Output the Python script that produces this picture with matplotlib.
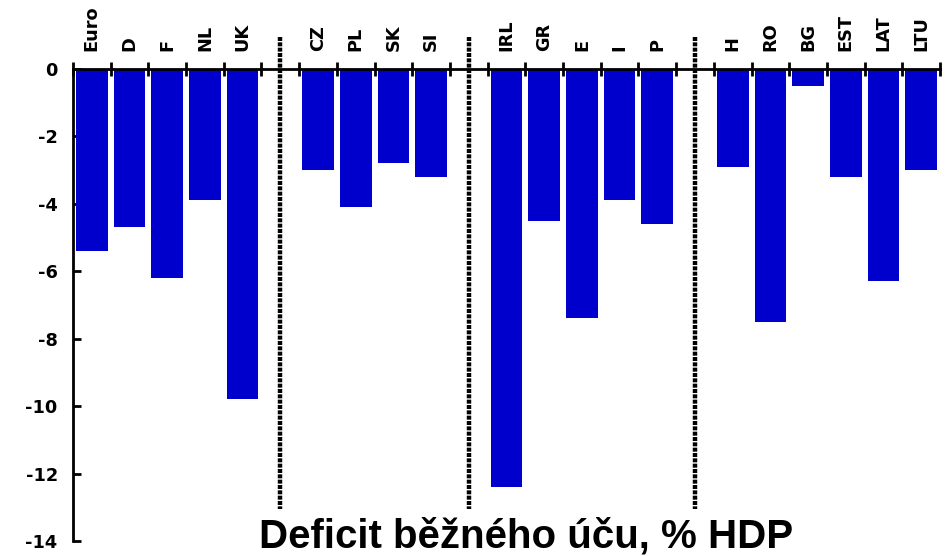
import matplotlib
matplotlib.use("Agg")
import matplotlib.pyplot as plt
import numpy as np

# Data (current account deficit, % of GDP)
groups = [
    ["Euro", "D", "F", "NL", "UK"],
    ["CZ", "PL", "SK", "SI"],
    ["IRL", "GR", "E", "I", "P"],
    ["H", "RO", "BG", "EST", "LAT", "LTU"],
]
values = [
    [-5.4, -4.7, -6.2, -3.9, -9.8],
    [-3.0, -4.1, -2.8, -3.2],
    [-12.4, -4.5, -7.4, -3.9, -4.6],
    [-2.9, -7.5, -0.5, -3.2, -6.3, -3.0],
]
y_ticks = [0, -2, -4, -6, -8, -10, -12, -14]
title = "Deficit b\u011b\u017en\u00e9ho \u00fa\u010du, % HDP"

bar_color = "#0000CC"

fig = plt.figure(figsize=(9.5, 5.56), dpi=100)
ax = fig.add_axes([73 / 950, 1 - 541 / 556, (940 - 73) / 950, (541 - 69) / 556])

# Build slot positions with one empty slot between groups
positions, labels, vals, separators = [], [], [], []
slot = 0
for gi, (g, v) in enumerate(zip(groups, values)):
    for name, val in zip(g, v):
        positions.append(slot + 0.5)
        labels.append(name)
        vals.append(val)
        slot += 1
    if gi < len(groups) - 1:
        separators.append(slot + 0.5)
        slot += 1
n_slots = slot

ax.bar(positions, vals, width=0.84, color=bar_color, zorder=2)

ax.set_xlim(0, n_slots)
ax.set_ylim(-14, 0)

# Spines
for s in ["right", "bottom"]:
    ax.spines[s].set_visible(False)
ax.spines["top"].set_linewidth(2)
ax.spines["left"].set_linewidth(2)

# X axis at top
ax.xaxis.set_ticks_position("top")
ax.set_xticks(np.arange(0, n_slots + 1))
ax.set_xticklabels([])
ax.set_xticks(positions, minor=True)
ax.set_xticklabels(labels, minor=True, rotation=90, fontsize=12.8,
                   fontweight="bold", family="DejaVu Sans")
ax.tick_params(axis="x", which="major", direction="inout", length=9.5, width=2)
ax.tick_params(axis="x", which="minor", length=0, pad=13, top=True, bottom=False,
               labeltop=True, labelbottom=False)

# Y axis
ax.set_yticks(y_ticks)
ax.set_yticklabels([str(t) for t in y_ticks], fontsize=12.8, fontweight="bold",
                   family="DejaVu Sans")
ax.tick_params(axis="y", direction="in", length=5.5, width=2, pad=11)

# Dotted group separators
for sx in separators:
    ax.plot([sx, sx], [0.95, -13.05], color="black", lw=3.2, ls=(0, (0.9, 0.3)),
            clip_on=False, zorder=3)

fig.text(526 / 950, 1 - 536 / 556, title, ha="center", va="center",
         fontsize=29, fontweight="bold", family="Liberation Sans")

fig.savefig("out.png", dpi=100)
